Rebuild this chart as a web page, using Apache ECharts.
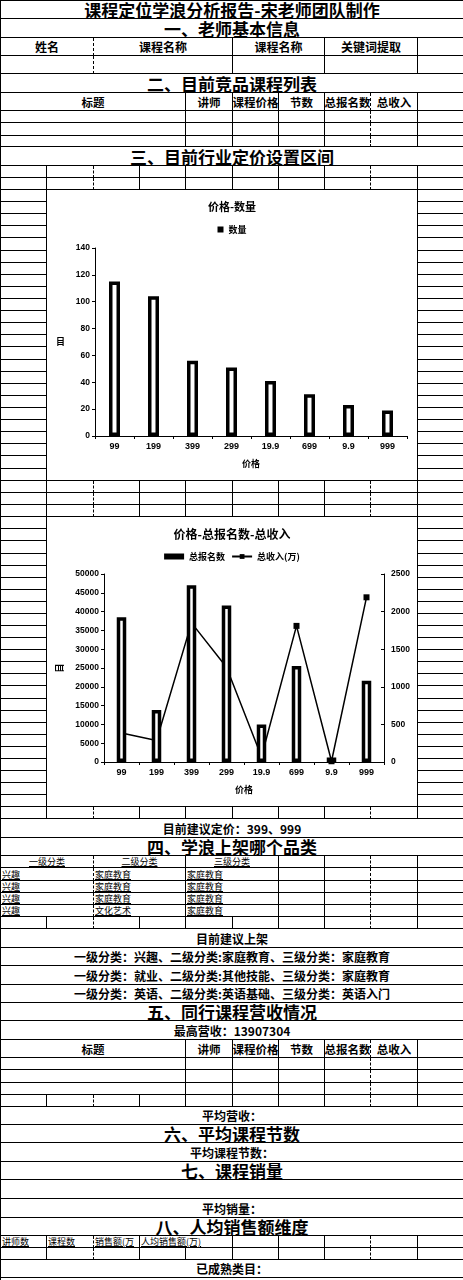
<!DOCTYPE html>
<html><head><meta charset="utf-8">
<script src="https://cdn.jsdelivr.net/npm/echarts@6/dist/echarts.min.js"></script>
<style>
html,body{margin:0;padding:0;background:#fff;}
#page{position:relative;width:463px;height:1280px;overflow:hidden;font-family:"Noto Sans CJK SC",sans-serif;color:#000;}
.c{position:absolute;box-sizing:border-box;border-right:1px solid #000;border-bottom:1px solid #000;display:flex;align-items:center;justify-content:center;overflow:hidden;white-space:nowrap;background:#fff;}
.dr{border-right:1px dashed #000;}
.h{font-size:17px;font-weight:bold;text-decoration:underline;text-decoration-thickness:2px;text-underline-offset:1px;}
.b{font-size:12px;font-weight:bold;}
.hd{font-size:11.5px;font-weight:bold;}
.s{font-size:9px;justify-content:flex-start;text-decoration:underline;padding-left:1px;}
.sc{font-size:9px;text-decoration:underline;}
.chart{position:absolute;background:#fff;}
</style></head>
<body><div id="page"></div>
<script>
// ---- data ----
const priceCats = ['99','199','399','299','19.9','699','9.9','999'];
const countValues = [115,104,56,51,41,31,23,19];
const enrollValues = [38500,13800,47000,41600,10000,25500,1200,21600];
const revenueValues = [385,285,1850,1260,70,1810,10,2190];
const countName = '数量';
const enrollName = '总报名数';
const revenueName = '总收入(万)';
const chart1Title = '价格-数量';
const chart2Title = '价格-总报名数-总收入';
const xName = '价格';
const yName = '目';

// ---- table layout ----
const X = [];
for (let i = 0; i <= 10; i++) X.push(Math.round(i * 46.3));
X[10] = 463;
const page = document.getElementById('page');
page.style.borderLeft = '1px solid #000';
page.style.boxSizing = 'border-box';
const topLine = document.createElement('div');
topLine.style.cssText = 'position:absolute;left:0;top:0;width:463px;height:1px;background:#000;';

function cell(c0, c1, t, b, text, cls) {
  const d = document.createElement('div');
  d.className = 'c' + (cls ? ' ' + cls : '');
  if ((c1 === 2 || c1 === 8) && !(cls && cls.indexOf('nd') >= 0)) d.classList.add('dr');
  const L = c0 === 0 ? 0 : X[c0];
  d.style.left = L + 'px';
  d.style.top = Math.round(t) + 'px';
  d.style.width = (X[c1] - L) + 'px';
  d.style.height = (Math.round(b) - Math.round(t)) + 'px';
  if (text) { const s = document.createElement('span'); s.textContent = text; d.appendChild(s); }
  page.appendChild(d);
  return d;
}
function full(t, b, text, cls) { cell(0, 10, t, b, text, cls); }
function ten(t, b) { for (let i = 0; i < 10; i++) cell(i, i + 1, t, b, '', ''); }
function row(t, b, spans) { spans.forEach(s => cell(s[0], s[1], t, b, s[2] || '', s[3] || '')); }

const infoHead = [[0,2,'姓名','b'],[2,5,'课程名称','b'],[5,7,'课程名称','b'],[7,9,'关键词提取','b'],[9,10,'']];
const infoEmpty = [[0,2],[2,5],[5,7],[7,9],[9,10]];
const listHead = [[0,4,'标题','hd'],[4,5,'讲师','hd'],[5,6,'课程价格','hd'],[6,7,'节数','hd'],[7,8,'总报名数','hd'],[8,9,'总收入','hd'],[9,10,'']];
const listEmpty = [[0,4],[4,5],[5,6],[6,7],[7,8],[8,9],[9,10]];

full(0, 19, '课程定位学浪分析报告-宋老师团队制作', 'h');
full(19, 37.7, '一、老师基本信息', 'h');
row(37.7, 56, infoHead);
row(56, 74, infoEmpty);
full(74, 92.7, '二、目前竞品课程列表', 'h');
row(92.7, 111, listHead);
row(111, 123.3, listEmpty);
row(123.3, 135.7, listEmpty);
row(135.7, 147.3, listEmpty);
full(147.3, 165.7, '三、目前行业定价设置区间', 'h');
ten(165.7, 177.7);
ten(177.7, 190);
function chartBlock(t, b, id) {
  const n = 24, h = (b - t) / n;
  for (let k = 0; k < n; k++) {
    cell(0, 1, t + k * h, t + (k + 1) * h, '', '');
    cell(9, 10, t + k * h, t + (k + 1) * h, '', '');
  }
  cell(1, 9, t, b, '', 'nd');
  const d = document.createElement('div');
  d.className = 'chart';
  d.id = id;
  d.style.left = X[1] + 'px';
  d.style.top = Math.round(t) + 'px';
  d.style.width = (X[9] - X[1] - 1) + 'px';
  d.style.height = (Math.round(b) - Math.round(t) - 1) + 'px';
  page.appendChild(d);
  return d;
}
const c1div = chartBlock(190, 480.7, 'c1');
ten(480.7, 492.7);
ten(492.7, 505.3);
ten(505.3, 517.3);
const c2div = chartBlock(517.3, 807.3, 'c2');
ten(807.3, 819.3);
full(819.3, 838, '目前建议定价：399、999', 'b');
full(838, 856.3, '四、学浪上架哪个品类', 'h');
row(856.3, 868.3, [[0,2,'一级分类','sc'],[2,4,'二级分类','sc'],[4,6,'三级分类','sc'],[6,7],[7,8],[8,9],[9,10]]);
const cats = [['兴趣','家庭教育','家庭教育'],['兴趣','家庭教育','家庭教育'],['兴趣','家庭教育','家庭教育'],['兴趣','文化艺术','家庭教育']];
const catRows = [[868.3,880.7],[880.7,892.7],[892.7,904.7],[904.7,916.7]];
cats.forEach((r, i) => row(catRows[i][0], catRows[i][1], [[0,2,r[0],'s'],[2,4,r[1],'s'],[4,6,r[2],'s'],[6,7],[7,8],[8,9],[9,10]]));
ten(916.7, 929.3);
full(929.3, 948, '目前建议上架', 'b');
full(948, 966.3, '一级分类：兴趣、二级分类:家庭教育、三级分类：家庭教育', 'b');
full(966.3, 984.7, '一级分类：就业、二级分类:其他技能、三级分类：家庭教育', 'b');
full(984.7, 1002.7, '一级分类：英语、二级分类:英语基础、三级分类：英语入门', 'b');
full(1002.7, 1020.7, '五、同行课程营收情况', 'h');
full(1020.7, 1040, '最高营收：13907304', 'b');
row(1040, 1058.3, listHead);
row(1058.3, 1070.3, listEmpty);
row(1070.3, 1082.5, listEmpty);
row(1082.5, 1094.5, listEmpty);
ten(1094.5, 1106.7);
full(1106.7, 1124.7, '平均营收：', 'b');
full(1124.7, 1143.3, '六、平均课程节数', 'h');
full(1143.3, 1162, '平均课程节数：', 'b');
full(1162, 1180.3, '七、课程销量', 'h');
full(1180.3, 1199, '', '');
full(1199, 1217.5, '平均销量：', 'b');
full(1217.5, 1236, '八、人均销售额维度', 'h');
row(1236, 1248.3, [[0,1,'讲师数','s'],[1,2,'课程数','s'],[2,3,'销售额(万','s'],[3,5,'人均销售额(万)','s'],[5,6],[6,7],[7,8],[8,9],[9,10]]);
ten(1248.3, 1260.3);
full(1260.3, 1277.5, '已成熟类目：', 'b');
page.appendChild(topLine);

// ---- charts ----
const F = '"Noto Sans CJK SC", sans-serif';
const numF = '"Liberation Sans", sans-serif';
const axisLineS = {show:true, lineStyle:{color:'#000', width:1}};
const tickS = {show:true, length:3, lineStyle:{color:'#000', width:1}};
const plain = v => String(v);

const ch1 = echarts.init(c1div);
ch1.setOption({
  animation:false,
  title:{text:chart1Title, left:'center', top:6, textStyle:{fontSize:11, fontWeight:'bold', color:'#000', fontFamily:F}},
  legend:{top:30, left:'center', itemWidth:6, itemHeight:6, itemGap:4,
    textStyle:{fontSize:9, color:'#000', fontWeight:'bold', fontFamily:F},
    data:[{name:countName, icon:'rect', itemStyle:{color:'#000', borderWidth:0}}]},
  grid:{left:48, right:10, top:58, bottom:44},
  xAxis:{type:'category', data:priceCats, name:xName, nameLocation:'middle', nameGap:23,
    nameTextStyle:{fontSize:9, fontWeight:'bold', color:'#000', fontFamily:F},
    axisLine:axisLineS, axisTick:tickS,
    axisLabel:{color:'#000', fontSize:9, fontWeight:'bold', margin:6, interval:0, fontFamily:numF}},
  yAxis:{type:'value', min:0, max:140, interval:20, name:yName, nameLocation:'middle', nameRotate:0, nameGap:30,
    nameTextStyle:{fontSize:9, fontWeight:'bold', color:'#000', fontFamily:F},
    axisLine:axisLineS, axisTick:tickS, splitLine:{show:false},
    axisLabel:{color:'#000', fontSize:8.5, fontWeight:'bold', margin:5, fontFamily:numF, formatter:plain}},
  series:[{type:'bar', name:countName, data:countValues, barWidth:11,
    itemStyle:{color:'#fff', borderColor:'#000', borderWidth:3.5}}]
});

const ch2 = echarts.init(c2div);
ch2.setOption({
  animation:false,
  title:{text:chart2Title, left:'center', top:6, textStyle:{fontSize:12, fontWeight:'bold', color:'#000', fontFamily:F}},
  legend:{top:30, left:'center', itemWidth:20, itemHeight:6, itemGap:6,
    textStyle:{fontSize:9, color:'#000', fontWeight:'bold', fontFamily:F},
    data:[{name:enrollName, icon:'rect', itemStyle:{color:'#000', borderWidth:0}},
          {name:revenueName}]},
  grid:{left:57, right:33, top:57, bottom:44},
  xAxis:{type:'category', data:priceCats, name:xName, nameLocation:'middle', nameGap:23,
    nameTextStyle:{fontSize:9, fontWeight:'bold', color:'#000', fontFamily:F},
    axisLine:axisLineS, axisTick:tickS,
    axisLabel:{color:'#000', fontSize:9, fontWeight:'bold', margin:6, interval:0, fontFamily:numF}},
  yAxis:[
    {type:'value', min:0, max:50000, interval:5000, name:yName, nameLocation:'middle', nameRotate:90, nameGap:40,
     nameTextStyle:{fontSize:9, fontWeight:'bold', color:'#000', fontFamily:F},
     axisLine:axisLineS, axisTick:tickS, splitLine:{show:false},
     axisLabel:{color:'#000', fontSize:8.5, fontWeight:'bold', margin:5, fontFamily:numF, formatter:plain}},
    {type:'value', min:0, max:2500, interval:500, position:'right',
     axisLine:axisLineS, axisTick:{show:true, inside:true, length:3, lineStyle:{color:'#000'}}, splitLine:{show:false},
     axisLabel:{color:'#000', fontSize:8.5, fontWeight:'bold', margin:7, fontFamily:numF, formatter:plain}}
  ],
  series:[
    {type:'line', name:revenueName, yAxisIndex:1, data:revenueValues, z:1,
     symbol:'rect', symbolSize:6, lineStyle:{color:'#000', width:1.5}, itemStyle:{color:'#000'}},
    {type:'bar', name:enrollName, data:enrollValues, barWidth:9.5, z:3,
     itemStyle:{color:'#fff', borderColor:'#000', borderWidth:3.5}}
  ]
});
</script>
</body></html>
